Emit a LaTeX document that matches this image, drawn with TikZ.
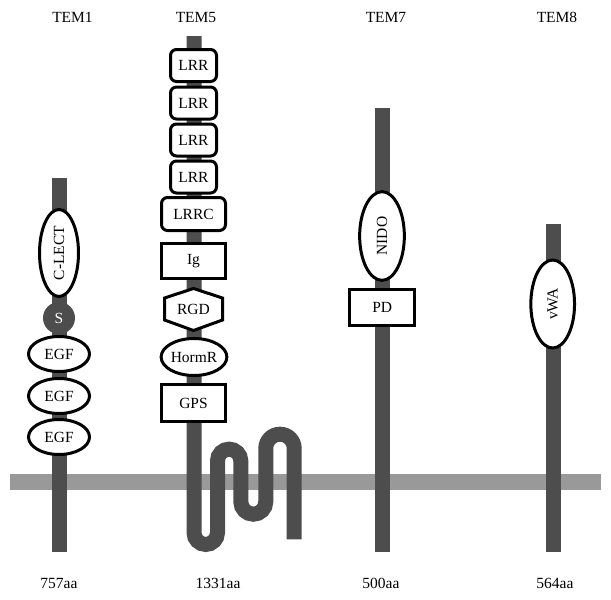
\documentclass[tikz,border=0pt]{standalone}
\usepackage{fontspec}
\setmainfont{Liberation Serif}
\usetikzlibrary{shapes.geometric}
\definecolor{stalk}{RGB}{77,77,77}
\definecolor{memb}{RGB}{153,153,153}
\tikzset{
  lbl/.style={font=\fontsize{15.5}{18}\selectfont, inner sep=0pt},
  dom/.style={draw=black, line width=3pt, fill=white, inner sep=0pt, font=\fontsize{15.5}{18}\selectfont},
  ell/.style={dom, ellipse},
  boxd/.style={dom, rectangle},
  rbox/.style={dom, rectangle, rounded corners=6pt},
  stalkline/.style={draw=stalk, line width=15pt},
}
\begin{document}
\begin{tikzpicture}[x=1pt, y=-1pt]
\useasboundingbox (0,0) rectangle (611,600);
% membrane
\draw[memb, line width=16pt] (10,482) -- (601,482);
% stalks
\draw[stalkline] (59.2,178) -- (59.2,552);
\draw[stalkline] (382.5,108) -- (382.5,552);
\draw[stalkline] (553,224) -- (553,552);
\draw[stalkline] (194,36) -- (194,532.7)
  arc[start angle=180, end angle=0, radius=11.75] -- (217.5,460.8)
  arc[start angle=180, end angle=360, radius=11.65] -- (240.8,501.7)
  arc[start angle=180, end angle=0, radius=12.5] -- (265.8,448.4)
  arc[start angle=180, end angle=360, radius=14.2] -- (294.2,539.3);
% titles
\node[lbl] (t1) at (72.5,17) {TEM1};
\node[lbl] (t5) at (196,17) {TEM5};
\node[lbl] (t7) at (386,17) {TEM7};
\node[lbl] (t8) at (557,17) {TEM8};
\node[lbl] (a1) at (59,583) {757aa};
\node[lbl] (a5) at (218,583) {1331aa};
\node[lbl] (a7) at (381,583) {500aa};
\node[lbl] (a8) at (555,583) {564aa};
% TEM1
\node[ell, minimum width=87pt, minimum height=39pt, rotate=90] (clect) at (59,253) {C-LECT};
\node[circle, fill=stalk, minimum size=32pt, inner sep=0pt, text=white, font=\fontsize{15.5}{18}\selectfont] (s) at (59,318) {S};
\node[ell, minimum width=61pt, minimum height=35pt] (egf1) at (59,354) {EGF};
\node[ell, minimum width=61pt, minimum height=35pt] (egf2) at (59,396) {EGF};
\node[ell, minimum width=61pt, minimum height=35pt] (egf3) at (59,437) {EGF};
% TEM5
\node[rbox, minimum width=46pt, minimum height=32pt] (lrr1) at (193.5,65.5) {LRR};
\node[rbox, minimum width=46pt, minimum height=32pt] (lrr2) at (193.5,103) {LRR};
\node[rbox, minimum width=46pt, minimum height=32pt] (lrr3) at (193.5,140) {LRR};
\node[rbox, minimum width=46pt, minimum height=32pt] (lrr4) at (193.5,177) {LRR};
\node[rbox, minimum width=64pt, minimum height=33pt] (lrrc) at (193.5,214) {LRRC};
\node[boxd, minimum width=64pt, minimum height=35pt] (ig) at (193.5,261) {Ig};
\draw[draw=black, line width=3pt, fill=white, line join=miter]
  (164.5,298) -- (193.5,288.5) -- (222.5,298) -- (222.5,320) -- (193.5,330.5) -- (164.5,320) -- cycle;
\node[lbl] (rgd) at (193.5,309.5) {RGD};
\node[ell, minimum width=59pt, minimum height=37pt] (hormr) at (194,357) {HormR};
\node[boxd, minimum width=64pt, minimum height=37pt] (gps) at (193.5,403) {GPS};
% TEM7
\node[ell, minimum width=88.7pt, minimum height=44.7pt, rotate=90] (nido) at (382,236) {NIDO};
\node[boxd, minimum width=64.7pt, minimum height=36pt] (pd) at (382.2,307) {PD};
% TEM8
\node[ell, minimum width=88pt, minimum height=43.7pt, rotate=90] (vwa) at (552.7,304) {vWA};
\end{tikzpicture}
\end{document}
